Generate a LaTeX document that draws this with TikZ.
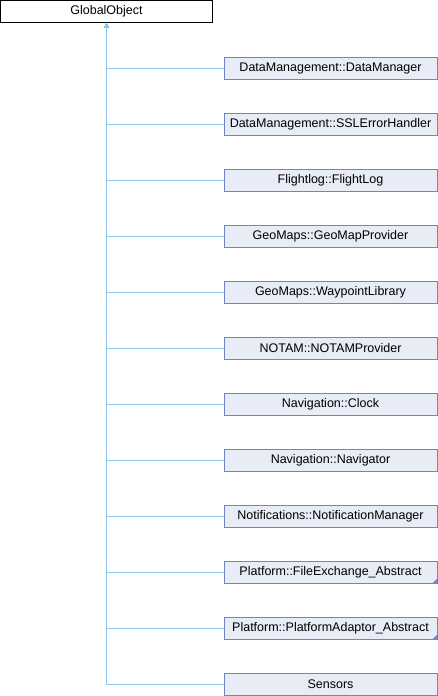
\documentclass[tikz,border=0pt]{standalone}
\usepackage{fontspec}
\setmainfont{Liberation Sans}
\usetikzlibrary{arrows.meta}
\definecolor{boxfill}{HTML}{E8ECF6}
\definecolor{boxline}{HTML}{6E86C6}
\definecolor{edge}{HTML}{8CC8EA}
\tikzset{
  cls/.style={draw=boxline, fill=boxfill, line width=0.9pt, minimum width=213pt, minimum height=22pt, inner sep=0pt, font=\fontsize{12.5}{14}\selectfont},
  base/.style={draw=black, fill=white, line width=0.9pt, minimum width=212pt, minimum height=22pt, inner sep=0pt, font=\fontsize{12.5}{14}\selectfont},
  inh/.style={draw=edge, line width=0.9pt, -{Triangle[length=5pt,width=5pt]}},
}
\begin{document}
\begin{tikzpicture}[x=1pt,y=-1pt]
\useasboundingbox (0,0) rectangle (438,696);
\node[base] (go) at (106.5,11.5) {GlobalObject};
\foreach \name/\txt [count=\i from 0] in {
  dm/DataManagement::DataManager,
  ssl/DataManagement::SSLErrorHandler,
  fl/Flightlog::FlightLog,
  gmp/GeoMaps::GeoMapProvider,
  wl/GeoMaps::WaypointLibrary,
  np/NOTAM::NOTAMProvider,
  clk/Navigation::Clock,
  nav/Navigation::Navigator,
  nm/Notifications::NotificationManager,
  fe/Platform::FileExchange\_Abstract,
  pa/Platform::PlatformAdaptor\_Abstract,
  sen/Sensors}{
  \node[cls] (\name) at (330.5,{68+56*\i}) {\txt};
  \draw[inh] (\name.west) -| (go.south);
}
\foreach \n in {fe,pa}{
  \fill[boxline] ([xshift=-5pt]\n.south east) -- (\n.south east) -- ([yshift=5pt]\n.south east) -- cycle;
}
\end{tikzpicture}
\end{document}
